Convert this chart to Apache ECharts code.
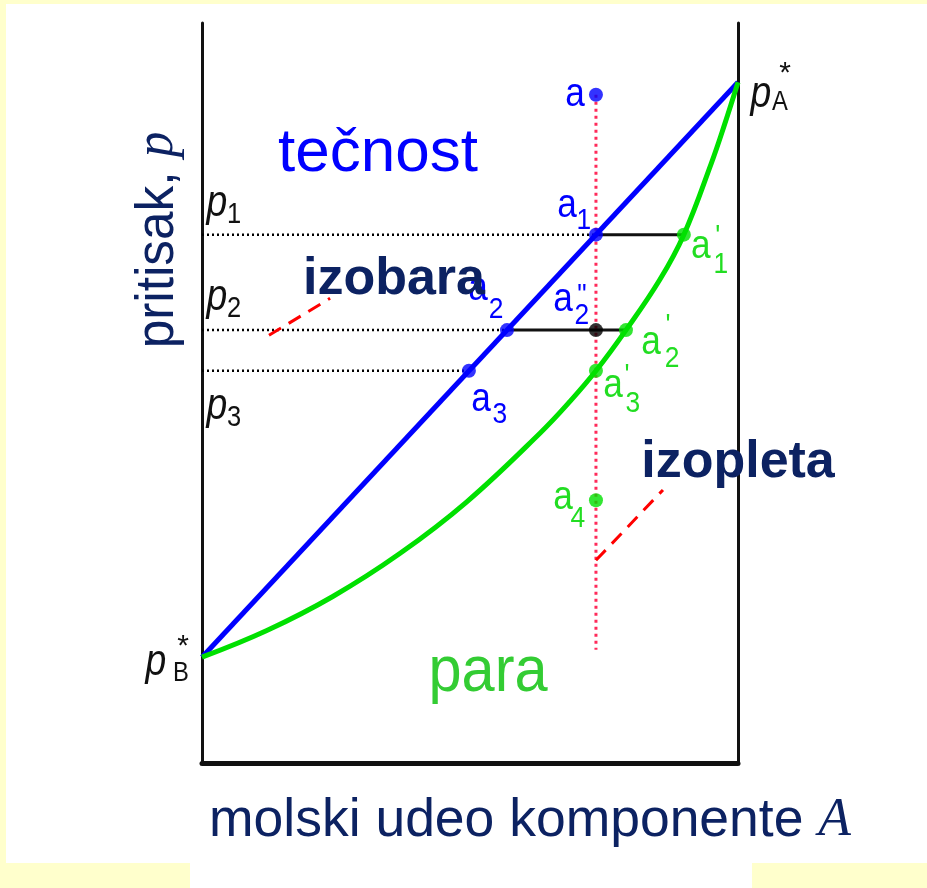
<!DOCTYPE html>
<html>
<head>
<meta charset="utf-8">
<script src="https://cdn.jsdelivr.net/npm/echarts@6/dist/echarts.min.js"></script>
<style>
  html, body { margin: 0; padding: 0; }
  body { width: 927px; height: 888px; background: #ffffcc; position: relative; overflow: hidden; }
  .sheet { position: absolute; background: #ffffff; }
  #chart { position: absolute; left: 0; top: 0; width: 927px; height: 888px; }
</style>
</head>
<body>
<div class="sheet" style="left:6px;top:4px;width:921px;height:859px;"></div>
<div class="sheet" style="left:190px;top:862px;width:562px;height:26px;"></div>
<div id="chart"></div>
<script>
// Liquid (bubble-point) line: straight line between the pure-component pressures
const liquidX = [0, 1];
const liquidP = [14.3, 92.0];

// Vapour (dew-point) curve
const vaporX = [0, 0.121, 0.244, 0.369, 0.494, 0.631, 0.687, 0.735, 0.791, 0.854, 0.899, 0.950, 0.975, 1];
const vaporP = [14.3, 17.9, 22.5, 28.3, 35.3, 44.6, 48.9, 53.0, 58.5, 65.3, 71.4, 81.0, 86.3, 92.0];

// Isobar levels p1, p2, p3
const isobarP = [71.4, 58.5, 53.0];
const isobarEndX = [0.735, 0.569, 0.498];

// Isopleth (overall composition) and its vertical extent
const isoplethX = 0.735;
const isoplethP = [90.3, 15.3];

// Tie lines at p1 and p2: [x liquid, x vapour, p]
const tieLines = [[0.735, 0.899, 71.4], [0.569, 0.791, 58.5]];

// State points
const liquidPts = { a: [0.735, 90.3], a1: [0.735, 71.4], a2: [0.569, 58.5], a3: [0.498, 53.0] };
const mixPts = { a2pp: [0.735, 58.5] };
const vaporPts = { a1p: [0.899, 71.4], a2p: [0.791, 58.5], a3p: [0.735, 53.0], a4: [0.735, 35.5] };

// Pointer segments for the "izobara" / "izopleta" captions
const isobarPointer = [[0.125, 57.8], [0.239, 62.8]];
const isoplethPointer = [[0.735, 27.4], [0.860, 36.9]];

const BLUE = '#0000ff', GREEN = '#00e000', LGREEN = '#22dd22', NAVY = '#0c2262', RED = '#ff0000';
const SANS = '"Liberation Sans", Arial, sans-serif';
const SERIF = '"Liberation Serif", "Times New Roman", serif';

const zip = (xs, ys) => xs.map((x, i) => [x, ys[i]]);
const seg = (pts, color, width, type, z) => ({
  type: 'line', data: pts, symbol: 'none', silent: true, z: z || 2,
  lineStyle: { color, width, type: type || 'solid' }
});

const series = [];
// dotted isobar guides
isobarP.forEach((p, i) => series.push(seg([[0, p], [isobarEndX[i], p]], '#000', 2.5, [2, 3], 1)));
// tie lines
tieLines.forEach(t => series.push(seg([[t[0], t[2]], [t[1], t[2]]], '#111', 3, 'solid', 2)));
// isopleth
series.push(seg([[isoplethX, isoplethP[0]], [isoplethX, isoplethP[1]]], '#ff2a5a', 3, [3, 4], 1));
// pointers
series.push(seg(isobarPointer, RED, 3, [14, 9], 3));
series.push(seg(isoplethPointer, RED, 3, [14, 9], 3));
// phase boundaries
series.push({ type: 'line', data: zip(liquidX, liquidP), symbol: 'none', lineStyle: { color: BLUE, width: 5 }, z: 4 });
series.push({ type: 'line', data: zip(vaporX, vaporP), symbol: 'none', smooth: 0.4, lineStyle: { color: GREEN, width: 5 }, z: 4 });
// points
series.push({ type: 'scatter', data: Object.values(liquidPts), symbolSize: 14, itemStyle: { color: BLUE }, z: 6 });
series.push({ type: 'scatter', data: Object.values(vaporPts), symbolSize: 14, itemStyle: { color: GREEN }, z: 6 });
series.push({ type: 'scatter', data: Object.values(mixPts), symbolSize: 14, itemStyle: { color: '#000' }, z: 6 });

const axisLine = (w) => ({ show: true, onZero: false, lineStyle: { color: '#111', width: w } });
const option = {
  animation: false,
  grid: { left: 202, right: 189, top: 23, bottom: 125 },
  xAxis: { type: 'value', min: 0, max: 1, axisLine: axisLine(5), axisTick: { show: false }, axisLabel: { show: false }, splitLine: { show: false } },
  yAxis: [
    { type: 'value', min: 0, max: 100, position: 'left', axisLine: axisLine(3), axisTick: { show: false }, axisLabel: { show: false }, splitLine: { show: false } },
    { type: 'value', min: 0, max: 100, position: 'right', axisLine: axisLine(3), axisTick: { show: false }, axisLabel: { show: false }, splitLine: { show: false } }
  ],
  series
};

const chart = echarts.init(document.getElementById('chart'));
chart.setOption(option);

const toPx = (pt) => chart.convertToPixel({ gridIndex: 0 }, pt);
const texts = [];
function txt(x, y, text, o) {
  o = o || {};
  texts.push({
    type: 'text', x, y, z: 100, scaleX: o.sx || 1, rotation: o.rot || 0,
    style: {
      text, fill: o.color || '#000', fontSize: o.size || 36, fontFamily: o.family || SANS,
      fontStyle: o.italic ? 'italic' : 'normal', fontWeight: o.bold ? 'bold' : 'normal',
      align: 'center', verticalAlign: 'middle', rich: o.rich
    }
  });
}
// text attached to a data point, shifted by a pixel offset
function tag(pt, dx, dy, text, o) {
  const p = toPx(pt);
  txt(p[0] + dx, p[1] + dy, text, o);
}

// point labels
const LB = { color: BLUE, size: 40, sx: 0.88 }, SB = { color: BLUE, size: 30, sx: 0.88 };
const LG = { color: LGREEN, size: 40, sx: 0.88 }, SG = { color: LGREEN, size: 30, sx: 0.88 };
tag(liquidPts.a, -21, 0, 'a', LB);
tag(liquidPts.a1, -29, -29, 'a', LB); tag(liquidPts.a1, -12, -14, '1', SB);
tag(liquidPts.a2, -29, -41, 'a', LB); tag(liquidPts.a2, -11, -20, '2', SB);
tag(liquidPts.a3, 12, 29, 'a', LB); tag(liquidPts.a3, 31, 44, '3', SB);
tag(mixPts.a2pp, -33, -30, 'a', LB); tag(mixPts.a2pp, -14, -34, '"', SB); tag(mixPts.a2pp, -14, -14, '2', SB);
tag(vaporPts.a1p, 17, 12, 'a', LG); tag(vaporPts.a1p, 34, 2, '\'', SG); tag(vaporPts.a1p, 37, 30, '1', SG);
tag(vaporPts.a2p, 25, 13, 'a', LG); tag(vaporPts.a2p, 42, -4, '\'', SG); tag(vaporPts.a2p, 46, 29, '2', SG);
tag(vaporPts.a3p, 17, 15, 'a', LG); tag(vaporPts.a3p, 31, 5, '\'', SG); tag(vaporPts.a3p, 37, 33, '3', SG);
tag(vaporPts.a4, -33, -2, 'a', LG); tag(vaporPts.a4, -18, 18, '4', SG);

// pressure level labels
const PL = { size: 44, italic: true, sx: 0.85, color: '#111' }, PS = { size: 30, sx: 0.85, color: '#111' };
isobarP.forEach((p, i) => {
  const dy = [-40, -41, 27][i];
  tag([0, p], 15, dy + 9, 'p', PL);
  tag([0, p], 32, dy + 20, String(i + 1), PS);
});
// pure-component pressures
tag([1, liquidP[1]], 23, 13, 'p', PL); tag([1, liquidP[1]], 42, 20, 'A', { size: 28, sx: 0.85, color: '#111' }); tag([1, liquidP[1]], 47, -8, '*', { size: 30, color: '#111' });
tag([0, liquidP[0]], -46, 6, 'p', PL); tag([0, liquidP[0]], -21, 16, 'B', { size: 28, sx: 0.85, color: '#111' }); tag([0, liquidP[0]], -19, -10, '*', { size: 30, color: '#111' });

// region and guide captions
txt(378, 154, 'tečnost', { color: BLUE, size: 62 });
txt(488, 673, 'para', { color: '#33cc33', size: 64, sx: 0.93 });
txt(394, 280, 'izobara', { color: NAVY, size: 52, bold: true });
txt(738, 463, 'izopleta', { color: NAVY, size: 52, bold: true });
// axis titles
txt(530, 821, '{n|molski udeo komponente }{i|A}', {
  color: NAVY, sx: 0.99,
  rich: { n: { fontSize: 54, fontFamily: SANS, fill: NAVY }, i: { fontSize: 54, fontFamily: SERIF, fontStyle: 'italic', fill: NAVY } }
});
txt(158, 240, '{n|pritisak, }{i|p}', {
  color: NAVY, rot: Math.PI / 2, sx: 0.95,
  rich: { n: { fontSize: 54, fontFamily: SANS, fill: NAVY }, i: { fontSize: 54, fontFamily: SERIF, fontStyle: 'italic', fill: NAVY } }
});

chart.setOption({ graphic: texts });
</script>
</body>
</html>
